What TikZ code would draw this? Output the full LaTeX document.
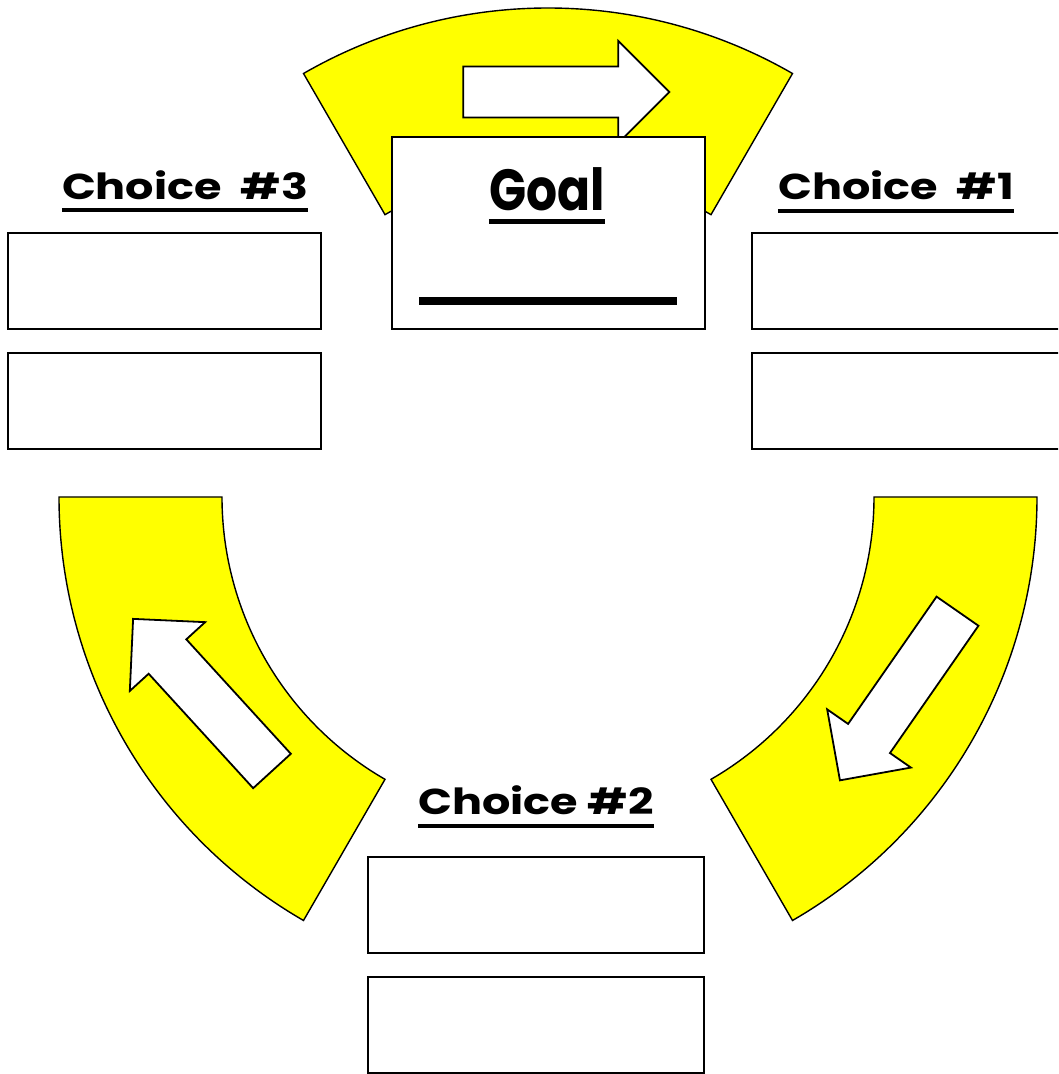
\documentclass[tikz,border=0pt]{standalone}
\usepackage{fontspec}
\newfontfamily\choicefont{Poppins}[FakeStretch=1.237]
\newfontfamily\goalfont{Poppins}[FakeStretch=0.84]
\definecolor{ringyellow}{RGB}{255,255,0}
\usetikzlibrary{positioning}

\begin{document}
\begin{tikzpicture}[x=1pt, y=1pt,
        ring/.style={draw, fill=ringyellow, line width=1.4pt},
        turn/.style={draw, fill=white, line width=1.8pt},
        answer/.style={draw, line width=2.2pt, minimum width=312.4pt, minimum height=95.7pt, inner sep=0pt, outer sep=0pt},
        heading/.style={font=\choicefont\bfseries\fontsize{36}{40}\selectfont, inner sep=0pt, anchor=base},
        uline/.style={line width=4pt}]
        \useasboundingbox (0,0) rectangle (1058,1074);
        \clip (0,0) rectangle (1058,1074);
        % yellow parts of the ring
        \begin{scope}[shift={(548,577)}]
            \draw[ring] (60:489) arc[start angle=60, end angle=120, radius=489] -- (120:326) arc[start angle=120, end angle=60, radius=326] -- cycle;
            \draw[ring] (180:489) arc[start angle=180, end angle=240, radius=489] -- (240:326) arc[start angle=240, end angle=180, radius=326] -- cycle;
            \draw[ring] (300:489) arc[start angle=300, end angle=360, radius=489] -- (0:326) arc[start angle=360, end angle=300, radius=326] -- cycle;
        \end{scope}
        % block arrows
        \draw[turn, shift={(463.3,982)}] (0,25.5) -- (155,25.5) -- (155,51) -- (206,0) -- (155,-51) -- (155,-25.5) -- (0,-25.5) -- cycle;
        \draw[turn, shift={(957.5,462.8)}, rotate=235.2] (0,25.5) -- (155,25.5) -- (155,51) -- (206,0) -- (155,-51) -- (155,-25.5) -- (0,-25.5) -- cycle;
        \draw[turn, shift={(272,303)}, rotate=132.4] (0,25.5) -- (155,25.5) -- (155,51) -- (206,0) -- (155,-51) -- (155,-25.5) -- (0,-25.5) -- cycle;
        % goal
        \node[answer, fill=white, minimum width=312.7pt, minimum height=192pt] (goal) at (548.6,840.7) {};
        \node[heading, font=\goalfont\bfseries\fontsize{58}{64}\selectfont] (goaltxt) at (547,863) {Goal};
        \draw[uline, line width=5pt] ([yshift=-10.7pt]goaltxt.base west) -- ([yshift=-10.7pt]goaltxt.base east);
        \draw[line width=8pt] ([shift={(27,28)}]goal.south west) -- ([shift={(-28,28)}]goal.south east);
        % choices
        \node[heading] (c3) at (185,874) {Choice\ \ \#3};
        \node[heading] (c1) at (896,874) {Choice\ \ \#1};
        \node[heading] (c2) at (536,259) {Choice \#2};
        \draw[uline] ([yshift=-10pt]c3.base west) -- ([yshift=-10pt]c3.base east);
        \draw[uline] ([yshift=-11pt]c1.base west) -- ([yshift=-11pt]c1.base east);
        \draw[uline] ([yshift=-11.5pt]c2.base west) -- ([yshift=-11.5pt]c2.base east);
        \node[answer] (c3a) at (164.5,792.8) {};
        \node[answer, below=24.3pt of c3a] (c3b) {};
        \node[answer] (c1a) at (908.5,792.8) {};
        \node[answer, below=24.3pt of c1a] (c1b) {};
        \node[answer, minimum width=336pt, minimum height=96pt] (c2a) at (536.3,168.7) {};
        \node[answer, minimum width=336pt, minimum height=96pt, below=23.7pt of c2a] (c2b) {};
\end{tikzpicture}
\end{document}
